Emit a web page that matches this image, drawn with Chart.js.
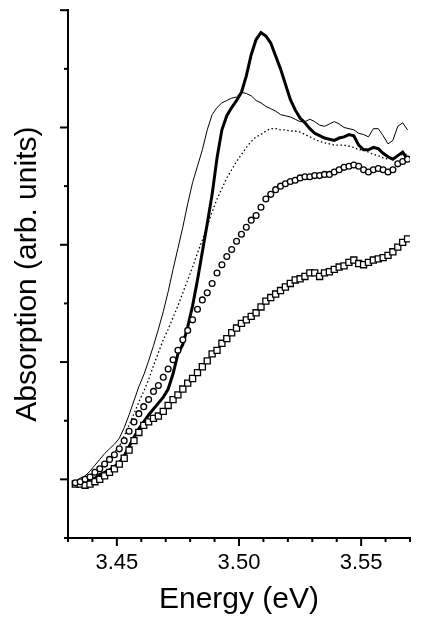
<!DOCTYPE html>
<html>
<head>
<meta charset="utf-8">
<script src="https://cdn.jsdelivr.net/npm/chart.js@4.4.0/dist/chart.umd.min.js"></script>
<style>
  html, body { margin: 0; padding: 0; background: #fff; }
  #absChart { display: block; }
</style>
</head>
<body>
<canvas id="absChart" width="422" height="629"></canvas>
<script>
// energy grid (eV), 3.433 ... 3.569 in 0.002 steps
var energy = [
  3.433, 3.435, 3.437, 3.439, 3.441, 3.443, 3.445, 3.447, 3.449, 3.451,
  3.453, 3.455, 3.457, 3.459, 3.461, 3.463, 3.465, 3.467, 3.469, 3.471,
  3.473, 3.475, 3.477, 3.479, 3.481, 3.483, 3.485, 3.487, 3.489, 3.491,
  3.493, 3.495, 3.497, 3.499, 3.501, 3.503, 3.505, 3.507, 3.509, 3.511,
  3.513, 3.515, 3.517, 3.519, 3.521, 3.523, 3.525, 3.527, 3.529, 3.531,
  3.533, 3.535, 3.537, 3.539, 3.541, 3.543, 3.545, 3.547, 3.549, 3.551,
  3.553, 3.555, 3.557, 3.559, 3.561, 3.563, 3.565, 3.567, 3.569
];

// thin solid line
var thinLine = [
  -0.02, 0.01, 0.03, 0.07, 0.12, 0.17, 0.22, 0.26, 0.30, 0.35,
  0.44, 0.55, 0.67, 0.79, 0.89, 1.01, 1.14, 1.28, 1.43, 1.60,
  1.79, 1.97, 2.15, 2.35, 2.53, 2.67, 2.81, 2.98, 3.11, 3.17,
  3.21, 3.23, 3.25, 3.26, 3.30, 3.29, 3.27, 3.23, 3.21, 3.18,
  3.16, 3.14, 3.11, 3.10, 3.09, 3.07, 3.05, 3.05, 3.07, 3.05,
  3.02, 3.01, 3.03, 3.05, 3.03, 3.00, 2.99, 2.98, 2.95, 2.94,
  2.92, 2.99, 2.99, 2.93, 2.86, 2.89, 3.01, 3.04, 2.98
];

// thick solid line
var thickLine = [
  -0.05, -0.03, -0.01, 0.00, 0.01, 0.04, 0.06, 0.08, 0.11, 0.14,
  0.20, 0.28, 0.36, 0.43, 0.49, 0.55, 0.60, 0.65, 0.70, 0.77,
  0.90, 1.07, 1.15, 1.30, 1.48, 1.70, 1.94, 2.18, 2.43, 2.74,
  2.98, 3.10, 3.17, 3.23, 3.30, 3.44, 3.62, 3.75, 3.81, 3.78,
  3.72, 3.61, 3.50, 3.37, 3.24, 3.15, 3.08, 3.04, 2.99, 2.95,
  2.93, 2.91, 2.90, 2.89, 2.91, 2.92, 2.94, 2.93, 2.85, 2.81,
  2.81, 2.83, 2.82, 2.78, 2.75, 2.73, 2.76, 2.79, 2.73
];

// dotted line
var dottedLine = [
  -0.03, -0.01, 0.01, 0.02, 0.06, 0.09, 0.13, 0.18, 0.23, 0.28,
  0.37, 0.46, 0.56, 0.66, 0.75, 0.85, 0.97, 1.08, 1.19, 1.28,
  1.38, 1.48, 1.59, 1.70, 1.81, 1.93, 2.04, 2.16, 2.28, 2.39,
  2.48, 2.57, 2.64, 2.71, 2.77, 2.83, 2.88, 2.92, 2.94, 2.97,
  2.99, 2.99, 2.98, 2.98, 2.97, 2.97, 2.96, 2.94, 2.92, 2.90,
  2.88, 2.87, 2.86, 2.85, 2.85, 2.85, 2.84, 2.83, 2.81, 2.81,
  2.79, 2.77, 2.76, 2.74, 2.73, 2.74, 2.76, 2.77, 2.77
];

// open circles
var circles = [
  -0.03, -0.02, 0.00, 0.02, 0.06, 0.09, 0.13, 0.17, 0.21, 0.26,
  0.33, 0.41, 0.49, 0.56, 0.62, 0.68, 0.75, 0.80, 0.87, 0.94,
  1.02, 1.10, 1.19, 1.27, 1.36, 1.45, 1.53, 1.59, 1.67, 1.76,
  1.83, 1.90, 1.96, 2.03, 2.09, 2.15, 2.21, 2.25, 2.32, 2.39,
  2.43, 2.47, 2.50, 2.52, 2.54, 2.55, 2.57, 2.58, 2.58, 2.59,
  2.59, 2.60, 2.60, 2.62, 2.64, 2.66, 2.67, 2.68, 2.67, 2.64,
  2.62, 2.64, 2.65, 2.64, 2.62, 2.64, 2.69, 2.71, 2.73
];

// open squares
var squares = [
  -0.04, -0.04, -0.05, -0.04, -0.02, 0.00, 0.03, 0.06, 0.09, 0.13,
  0.18, 0.25, 0.33, 0.40, 0.46, 0.49, 0.52, 0.54, 0.58, 0.63,
  0.68, 0.72, 0.77, 0.82, 0.86, 0.91, 0.96, 1.01, 1.07, 1.10,
  1.16, 1.20, 1.25, 1.29, 1.33, 1.36, 1.39, 1.42, 1.47, 1.52,
  1.55, 1.58, 1.61, 1.64, 1.67, 1.70, 1.71, 1.73, 1.76, 1.76,
  1.73, 1.76, 1.77, 1.79, 1.81, 1.82, 1.85, 1.87, 1.84, 1.83,
  1.85, 1.87, 1.88, 1.89, 1.91, 1.94, 1.98, 2.02, 2.05
];

var xMajor = [3.45, 3.50, 3.55];

function pts(ys) {
  return energy.map(function(e, i) { return { x: e, y: ys[i] }; });
}

// tick marks: long on major, short on minor, drawn outside the axes
var tickMarks = {
  id: 'tickMarks',
  afterDraw: function(chart) {
    var ctx = chart.ctx;
    var xs = chart.scales.x, ys = chart.scales.y;
    ctx.save();
    ctx.strokeStyle = '#000';
    ctx.lineWidth = 2;
    xs.ticks.forEach(function(t) {
      var px = xs.getPixelForValue(t.value);
      var major = xMajor.some(function(m) { return Math.abs(m - t.value) < 1e-6; });
      var len = major ? 8 : 4;
      ctx.beginPath();
      ctx.moveTo(px, xs.top);
      ctx.lineTo(px, xs.top + len);
      ctx.stroke();
    });
    ys.ticks.forEach(function(t) {
      var py = ys.getPixelForValue(t.value);
      var major = Math.abs(t.value - Math.round(t.value)) < 1e-6;
      var len = major ? 8 : 4;
      ctx.beginPath();
      ctx.moveTo(ys.right, py);
      ctx.lineTo(ys.right - len, py);
      ctx.stroke();
    });
    ctx.restore();
  }
};

Chart.defaults.font.family = '"Liberation Sans", Arial, sans-serif';
Chart.defaults.color = '#000';

var ctx = document.getElementById('absChart').getContext('2d');
new Chart(ctx, {
  type: 'scatter',
  data: {
    datasets: [
      {
        label: 'thick',
        data: pts(thickLine),
        showLine: true,
        borderColor: '#000',
        borderWidth: 3,
        pointRadius: 0,
        tension: 0,
        order: 1
      },
      {
        label: 'thin',
        data: pts(thinLine),
        showLine: true,
        borderColor: '#000',
        borderWidth: 1,
        pointRadius: 0,
        tension: 0,
        order: 2
      },
      {
        label: 'dotted',
        data: pts(dottedLine),
        showLine: true,
        borderColor: '#000',
        borderWidth: 1.3,
        borderDash: [1.5, 2.5],
        pointRadius: 0,
        tension: 0,
        order: 3
      },
      {
        label: 'circles',
        data: pts(circles),
        showLine: false,
        pointStyle: 'circle',
        pointRadius: 2.9,
        pointBorderWidth: 1.3,
        pointBorderColor: '#000',
        pointBackgroundColor: '#fff',
        order: 0
      },
      {
        label: 'squares',
        data: pts(squares),
        showLine: false,
        pointStyle: 'rect',
        pointRadius: 4.3,
        pointBorderWidth: 1.3,
        pointBorderColor: '#000',
        pointBackgroundColor: '#fff',
        order: 0
      }
    ]
  },
  options: {
    responsive: false,
    animation: false,
    layout: { padding: { top: 7, right: 0, left: 0, bottom: 0 } },
    plugins: { legend: { display: false }, tooltip: { enabled: false } },
    scales: {
      x: {
        type: 'linear',
        min: 3.43,
        max: 3.57,
        afterFit: function(s) { s.height = 91; },
        border: { display: true, color: '#000', width: 2 },
        grid: { display: false, drawTicks: false },
        ticks: {
          stepSize: 0.01,
          padding: 12,
          maxRotation: 0,
          autoSkip: false,
          font: { size: 22 },
          callback: function(v) {
            var isMajor = xMajor.some(function(m) { return Math.abs(m - v) < 1e-6; });
            return isMajor ? v.toFixed(2) : '';
          }
        },
        title: {
          display: true,
          text: 'Energy (eV)',
          font: { size: 30 },
          padding: { top: 4, bottom: 11 }
        }
      },
      y: {
        min: -0.5,
        max: 4,
        afterFit: function(s) { s.width = 68; },
        border: { display: true, color: '#000', width: 2 },
        grid: { display: false, drawTicks: false },
        ticks: { stepSize: 0.5, display: true, callback: function() { return ''; } },
        title: {
          display: true,
          text: 'Absorption (arb. units)',
          font: { size: 30 },
          padding: { top: 10, bottom: 0 }
        }
      }
    }
  },
  plugins: [tickMarks]
});
</script>
</body>
</html>
